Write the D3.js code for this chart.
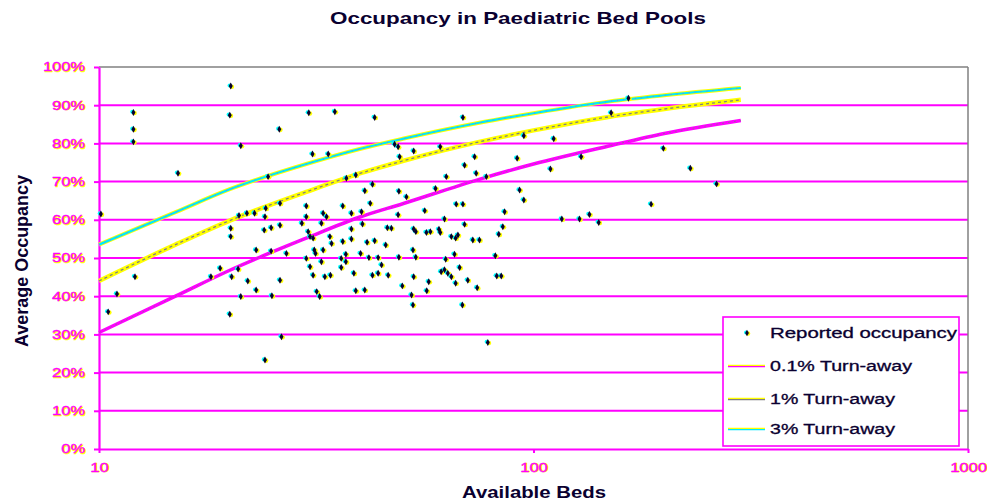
<!DOCTYPE html>
<html><head><meta charset="utf-8">
<script src="https://cdn.jsdelivr.net/npm/d3@7"></script>
<style>
body{margin:0;background:#fff;}
svg{display:block;}
text{font-family:"Liberation Sans",Arial,sans-serif;}
</style>
</head><body>
<svg id="chart" width="987" height="502"></svg>
<script>
// ---------- data ----------
const title = "Occupancy in Paediatric Bed Pools";
const xTitle = "Available Beds";
const yTitle = "Average Occupancy";
const yTickValues = [0,10,20,30,40,50,60,70,80,90,100];
const xTickValues = [10,100,1000];

const lineBeds = [10,15,20,30,40,50,75,100,150,200,300];
const turnAway01 = [30.5,40.0,46.8,55.2,60.8,64.2,70.6,74.6,79.4,82.6,86.0];
const turnAway1  = [44.0,53.5,59.8,67.3,72.2,75.4,80.4,83.4,87.0,89.0,91.4];
const turnAway3  = [53.5,62.0,68.0,74.6,78.6,81.2,85.4,87.9,91.0,92.6,94.5];

const reportedBeds = [
 10.1,10.5,11.0,12.0,12.0,12.0,12.1,15.2,18.1,19.0,
 20.0,20.1,20.1,20.1,20.2,20.0,20.9,21.0,21.2,21.2,
 21.9,22.0,22.8,23.0,23.0,24.0,24.1,24.1,24.2,24.5,
 24.9,24.9,25.0,26.0,26.1,26.1,26.1,26.3,27.0,29.3,
 30.0,30.0,30.0,30.3,30.4,30.6,30.6,31.0,31.1,31.1,
 31.3,31.5,31.7,32.2,32.5,32.5,32.8,32.8,33.1,33.4,
 33.7,34.0,34.1,34.3,34.9,36.1,36.1,36.4,36.4,37.0,
 37.0,37.1,38.1,38.1,38.1,38.6,39.0,39.0,40.0,40.2,
 40.4,40.9,40.9,41.4,41.8,42.1,42.6,42.6,43.1,43.1,
 43.9,43.9,44.7,45.7,46.1,46.3,47.1,47.9,48.8,48.8,
 49.0,49.0,49.2,49.9,51.0,52.4,52.8,52.8,53.0,53.0,
 53.0,53.6,53.6,56.2,56.7,56.8,57.4,57.9,59.5,60.6,
 61.0,61.0,61.3,62.4,62.4,62.8,63.0,63.5,64.7,64.7,
 65.8,66.2,66.2,66.4,67.0,67.6,68.6,68.8,68.8,69.4,
 69.4,70.6,72.5,73.2,73.8,74.2,75.1,77.9,78.5,81.7,
 82.3,83.2,84.3,85.0,85.8,91.7,92.9,95.0,95.0,109.4,
 111.3,116.2,127.6,128.7,134.5,141.3,150.9,165.4,186.5,199.0,
 229.6,263.8];
const reportedOcc = [
 61.5,35.9,40.6,88.1,83.7,80.4,45.1,72.2,45.1,47.3,
 87.4,95.0,57.8,55.6,45.1,35.3,47.1,61.1,79.4,39.9,
 61.7,44.0,61.7,52.1,41.6,57.3,60.8,23.3,63.0,71.3,
 57.9,51.8,40.1,83.7,64.3,58.6,44.2,29.4,51.2,59.1,
 63.6,60.8,49.9,56.9,88.0,55.6,47.7,77.2,55.2,45.5,
 52.1,51.2,41.2,39.9,59.1,49.0,61.7,52.1,45.1,60.8,
 77.2,55.6,45.5,53.8,88.3,49.9,47.5,63.6,54.3,49.0,
 51.0,70.9,61.7,57.6,55.0,46.0,71.7,41.4,51.2,62.1,
 58.9,67.6,41.6,54.1,50.1,64.3,69.3,45.5,86.8,54.5,
 50.1,46.0,48.2,53.4,57.9,45.5,57.8,79.8,79.1,61.3,
 67.5,50.2,76.5,42.7,66.0,40.3,52.1,37.7,78.0,57.6,
 45.1,56.9,50.2,62.4,56.7,41.4,43.8,56.9,68.2,57.5,
 79.1,56.7,46.4,60.2,46.9,49.7,71.3,46.0,55.6,45.1,
 51.0,55.2,43.4,64.1,56.0,47.5,37.7,86.8,64.1,74.3,
 58.8,44.2,54.7,76.5,72.2,42.2,54.7,71.3,27.9,50.6,
 45.3,56.2,45.3,58.2,62.1,76.1,67.8,82.0,65.2,73.3,
 81.2,60.2,60.2,76.5,61.4,59.3,88.0,91.8,64.1,78.7,
 73.5,69.4];

const legendLabels = ["Reported occupancy","0.1% Turn-away","1% Turn-away","3% Turn-away"];

// ---------- layout ----------
const MAG = "#ff00ff", GRAY = "#808080", INK = "#0a0030";
const plot = {left:99, right:968, top:67, bottom:449};
const svg = d3.select("#chart");

const x = d3.scaleLog().domain([10,1000]).range([plot.left, plot.right]);
const y = d3.scaleLinear().domain([0,100]).range([plot.bottom, plot.top]);

function stretch(sel, f){
  sel.each(function(){
    const w = this.getComputedTextLength();
    d3.select(this).attr("textLength", w*f).attr("lengthAdjust","spacingAndGlyphs");
  });
}

// gridlines
svg.append("g").selectAll("line")
  .data(yTickValues.filter(d=>d>0 && d<100)).join("line")
  .attr("x1", plot.left).attr("x2", plot.right)
  .attr("y1", d=>y(d)).attr("y2", d=>y(d))
  .attr("stroke", MAG).attr("stroke-width", 2);
svg.append("line").attr("x1",plot.left).attr("x2",plot.right)
  .attr("y1",y(100)).attr("y2",y(100)).attr("stroke",GRAY).attr("stroke-width",1.5);
svg.append("line").attr("x1",plot.right).attr("x2",plot.right)
  .attr("y1",plot.top).attr("y2",plot.bottom).attr("stroke",GRAY).attr("stroke-width",1.5);

// axes
const yAxis = svg.append("g").attr("transform",`translate(${plot.left},0)`)
  .call(d3.axisLeft(y).tickValues(yTickValues).tickSize(5).tickSizeOuter(0).tickPadding(9)
        .tickFormat(d=>d+"%"));
const xAxis = svg.append("g").attr("transform",`translate(0,${plot.bottom})`)
  .call(d3.axisBottom(x).tickValues(xTickValues).tickSize(4).tickSizeOuter(0).tickPadding(10)
        .tickFormat(d3.format("d")));
[yAxis,xAxis].forEach(a=>{
  a.select(".domain").attr("stroke",MAG).attr("stroke-width",2.2);
  a.selectAll(".tick line").attr("stroke",MAG).attr("stroke-width",2);
  a.selectAll(".tick text").attr("fill",MAG).attr("font-size",12)
   .attr("stroke",MAG).attr("stroke-width",0.35)
   .attr("font-family",'"Liberation Sans",Arial,sans-serif');
  a.selectAll(".tick").each(function(){
    const t = d3.select(this).select("text");
    const c = t.clone(false).lower();
    c.text(t.text()).attr("fill","#ffff00").attr("stroke","#ffff00").attr("stroke-width",0.6)
     .attr("transform","translate(1,0.8)");
  });
});
stretch(yAxis.selectAll(".tick text"),1.37);
stretch(xAxis.selectAll(".tick text"),1.37);

// curves
const lineGen = vals => d3.line()
  .x((d,i)=>x(lineBeds[i])).y(d=>y(d)).curve(d3.curveMonotoneX)(vals);

const curves = svg.append("g");
curves.append("path").attr("d",lineGen(turnAway3)).attr("fill","none")
  .attr("stroke","#ffff00").attr("stroke-width",4);
curves.append("path").attr("d",lineGen(turnAway3)).attr("fill","none")
  .attr("stroke","#00e8ff").attr("stroke-width",2.2);
curves.append("path").attr("d",lineGen(turnAway3)).attr("fill","none")
  .attr("stroke","#c050c0").attr("stroke-width",1).attr("stroke-dasharray","1,5").attr("opacity",0.7);
curves.append("path").attr("d",lineGen(turnAway1)).attr("fill","none")
  .attr("stroke","#ffff00").attr("stroke-width",4.5);
curves.append("path").attr("d",lineGen(turnAway1)).attr("fill","none")
  .attr("stroke",GRAY).attr("stroke-width",1.3).attr("stroke-dasharray","3,3");
curves.append("path").attr("d",lineGen(turnAway01)).attr("fill","none")
  .attr("stroke",MAG).attr("stroke-width",3.5);
curves.append("path").attr("d",lineGen(turnAway01)).attr("fill","none")
  .attr("stroke",GRAY).attr("stroke-width",1).attr("stroke-dasharray","2,4").attr("opacity",0.8);

// reported points
const pts = svg.append("g");
const idx = d3.range(reportedBeds.length);
pts.selectAll("circle.yl").data(idx).join("circle").attr("class","yl")
  .attr("cx",i=>x(reportedBeds[i])+1.1).attr("cy",i=>y(reportedOcc[i])+0.6).attr("r",2.3).attr("fill","#ffff00");
pts.selectAll("circle.cy").data(idx).join("circle").attr("class","cy")
  .attr("cx",i=>x(reportedBeds[i])-1.1).attr("cy",i=>y(reportedOcc[i])-0.6).attr("r",2.1).attr("fill","#00ffff");
pts.selectAll("path.dk").data(idx).join("path").attr("class","dk")
  .attr("d",d3.symbol(d3.symbolDiamond,14))
  .attr("transform",i=>`translate(${x(reportedBeds[i])},${y(reportedOcc[i])})`)
  .attr("fill",INK);

// legend
const lg = svg.append("g");
lg.append("rect").attr("x",723).attr("y",317).attr("width",236).attr("height",129)
  .attr("fill","#fff").attr("stroke",MAG).attr("stroke-width",1.6);
const rowY = [333,366,399,429];
const legW = [187,142,125,125];
lg.append("circle").attr("cx",748).attr("cy",rowY[0]+0.5).attr("r",2.2).attr("fill","#ffff00");
lg.append("circle").attr("cx",746).attr("cy",rowY[0]-0.5).attr("r",2.0).attr("fill","#00ffff");
lg.append("path").attr("d",d3.symbol(d3.symbolDiamond,12)).attr("transform",`translate(747,${rowY[0]})`).attr("fill",INK);
const sampleCol = [null,[MAG,"#ffff00"],[GRAY,"#ffff00"],["#00e8ff","#ffff00"]];
[1,2,3].forEach(k=>{
  lg.append("line").attr("x1",728).attr("x2",765).attr("y1",rowY[k]-0.7).attr("y2",rowY[k]-0.7)
    .attr("stroke",sampleCol[k][1]).attr("stroke-width",1.2);
  lg.append("line").attr("x1",728).attr("x2",765).attr("y1",rowY[k]+0.6).attr("y2",rowY[k]+0.6)
    .attr("stroke",sampleCol[k][0]).attr("stroke-width",1.3);
});
legendLabels.forEach((t,k)=>{
  lg.append("text").attr("x",770).attr("y",rowY[k]+5).attr("font-size",14)
    .attr("fill",INK).attr("stroke",INK).attr("stroke-width",0.3)
    .attr("textLength",legW[k]).attr("lengthAdjust","spacingAndGlyphs")
    .text(t);
});

// titles
svg.append("text").attr("x",330).attr("y",24).attr("font-size",17).attr("font-weight","bold")
  .attr("fill",INK).attr("textLength",376).attr("lengthAdjust","spacingAndGlyphs").text(title);
svg.append("text").attr("x",462).attr("y",498).attr("font-size",17).attr("font-weight","bold")
  .attr("fill",INK).attr("textLength",144).attr("lengthAdjust","spacingAndGlyphs").text(xTitle);
svg.append("text").attr("transform","translate(28,347) rotate(-90)").attr("font-size",18)
  .attr("font-weight","bold").attr("fill",INK).attr("textLength",172)
  .attr("lengthAdjust","spacingAndGlyphs").text(yTitle);
</script>
</body></html>
